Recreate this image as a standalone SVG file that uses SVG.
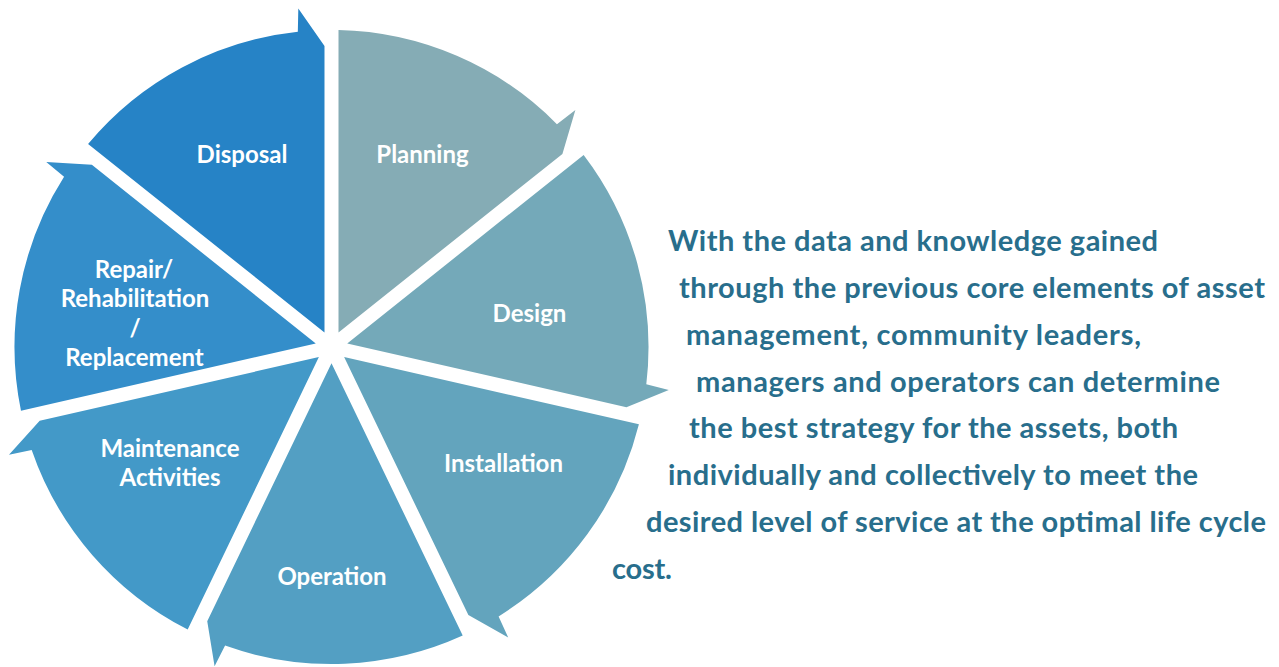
<svg xmlns="http://www.w3.org/2000/svg" xmlns:xlink="http://www.w3.org/1999/xlink" width="1279" height="667" viewBox="0 0 1279 667">
<style>
.lbl{font-family:Lato,"Open Sans","Liberation Sans",sans-serif;font-weight:700;font-size:24px;fill:#ffffff;text-anchor:middle}
.para{font-family:Lato,"Open Sans","Liberation Sans",sans-serif;font-weight:700;font-size:29px;fill:#286E8C}
</style>
<defs>
<path id="seg" d="M7,-14.54 L7,-316.92 A317,317 0 0 1 225.44,-222.86 L243.87,-236.92 L230.9,-193.1 Z"/>
</defs>
<rect width="1279" height="667" fill="#ffffff"/>
<g id="planning">
<use xlink:href="#seg" href="#seg" transform="translate(331.5 347) rotate(0)" fill="#85ACB5"/>
<text class="lbl" x="422.5" y="163">Planning</text>
</g>
<g id="design">
<use xlink:href="#seg" href="#seg" transform="translate(331.5 347) rotate(51.4286)" fill="#74A9B9"/>
<text class="lbl" x="529.5" y="322">Design</text>
</g>
<g id="installation">
<use xlink:href="#seg" href="#seg" transform="translate(331.5 347) rotate(102.8571)" fill="#63A4BD"/>
<text class="lbl" x="503.5" y="472">Installation</text>
</g>
<g id="operation">
<use xlink:href="#seg" href="#seg" transform="translate(331.5 347) rotate(154.2857)" fill="#539FC3"/>
<text class="lbl" x="332" y="585">Operation</text>
</g>
<g id="maintenance">
<use xlink:href="#seg" href="#seg" transform="translate(331.5 347) rotate(205.7143)" fill="#4399C8"/>
<text class="lbl" x="170" y="457">Maintenance</text>
<text class="lbl" x="170" y="486">Activities</text>
</g>
<g id="repair">
<use xlink:href="#seg" href="#seg" transform="translate(331.5 347) rotate(257.1429)" fill="#348ECA"/>
<text class="lbl" x="134" y="278">Repair/</text>
<text class="lbl" x="135" y="307">Rehabilitation</text>
<text class="lbl" x="135" y="337">/</text>
<text class="lbl" x="134.5" y="366">Replacement</text>
</g>
<g id="disposal">
<use xlink:href="#seg" href="#seg" transform="translate(331.5 347) rotate(308.5714)" fill="#2683C6"/>
<text class="lbl" x="242" y="163">Disposal</text>
</g>
<g id="description">
<text class="para" x="668" y="251" textLength="490">With the data and knowledge gained</text>
<text class="para" x="679" y="298" textLength="586">through the previous core elements of asset</text>
<text class="para" x="686" y="345" textLength="455">management, community leaders,</text>
<text class="para" x="696" y="392" textLength="524">managers and operators can determine</text>
<text class="para" x="689" y="438" textLength="489">the best strategy for the assets, both</text>
<text class="para" x="668" y="485" textLength="530">individually and collectively to meet the</text>
<text class="para" x="646" y="532" textLength="620">desired level of service at the optimal life cycle</text>
<text class="para" x="612" y="579" textLength="60">cost.</text>
</g>
</svg>
